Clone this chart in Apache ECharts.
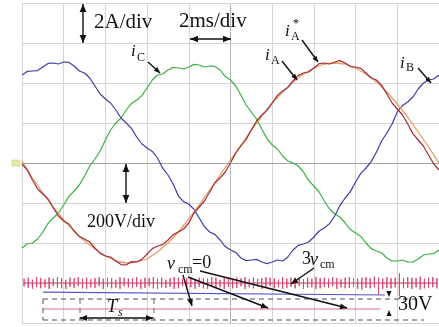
<!DOCTYPE html>
<html><head><meta charset="utf-8">
<script src="https://cdn.jsdelivr.net/npm/echarts@6/dist/echarts.min.js"></script>
<style>html,body{margin:0;padding:0;background:#fff}#c{width:439px;height:327px}</style>
</head><body><div id="c"></div>
<script>
// time axis in ms (2 ms/div), current axis in A (2 A/div)
const timeStep = 0.25;
const refStep = 0.5;
const timeTicks = [0,2,4,6,8,10,12,14,16,18,20];
const currentTicks = [-8,-6,-4,-2,0,2,4,6,8];
const iA = [-0.05,-0.35,-0.85,-1.3,-1.55,-1.8,-2.25,-2.65,-2.9,-3.05,-3.4,-3.68,-3.8,-3.95,-4.25,-4.52,-4.65,-4.7,-4.9,-5.08,-5.1,-4.93,-4.95,-4.82,-4.55,-4.28,-4.15,-4.08,-3.85,-3.58,-3.45,-3.3,-3.0,-2.5,-2.2,-1.9,-1.45,-1.0,-0.75,-0.45,0,0.5,0.85,1.18,1.65,2.1,2.4,2.63,3.0,3.38,3.6,3.78,4.1,4.38,4.5,4.55,4.75,4.97,5.0,4.95,5.05,5.12,5.0,4.82,4.8,4.73,4.5,4.25,4.15,3.88,3.45,3.0,2.7,2.4,1.95,1.47,1.15,0.85,0.4,-0.05,-0.35];
const iAref = [0.1,-0.75,-1.5,-2.2,-2.85,-3.4,-3.9,-4.3,-4.65,-4.9,-5.0,-4.95,-4.8,-4.45,-4.0,-3.45,-2.8,-2.1,-1.35,-0.6,0.15,0.9,1.65,2.35,3.0,3.55,4.05,4.45,4.75,4.95,5.0,4.95,4.75,4.45,4.05,3.55,2.95,2.3,1.55,0.8,0.0];
const iB = [4.4,4.58,4.6,4.62,4.8,4.98,5.0,4.95,5.05,5.03,4.85,4.6,4.5,4.25,3.85,3.45,3.2,3.0,2.65,2.25,2.0,1.73,1.3,0.95,0.75,0.58,0.25,-0.26,-0.6,-1.05,-1.65,-1.93,-2.05,-2.32,-2.75,-3.18,-3.45,-3.57,-3.85,-4.18,-4.35,-4.47,-4.75,-4.88,-4.85,-4.82,-4.95,-5.03,-4.95,-4.85,-4.9,-4.7,-4.35,-4.12,-4.05,-3.95,-3.7,-3.4,-3.25,-3.03,-2.65,-2.12,-1.75,-1.43,-0.95,-0.52,-0.25,0.07,0.55,1.1,1.5,1.95,2.55,2.88,3.05,3.3,3.7,4.0,4.15,4.2,4.4];
const iC = [-4.25,-4.05,-4.0,-3.8,-3.45,-3.02,-2.75,-2.5,-2.1,-1.67,-1.4,-1.1,-0.65,-0.15,0.2,0.6,1.15,1.65,2.0,2.25,2.65,2.98,3.15,3.37,3.75,4.15,4.4,4.45,4.65,4.78,4.75,4.7,4.8,4.93,4.9,4.8,4.85,4.83,4.65,4.32,4.15,3.85,3.4,2.9,2.55,2.2,1.7,1.22,0.9,0.7,0.35,0.1,0,-0.15,-0.45,-0.88,-1.15,-1.45,-1.9,-2.3,-2.55,-2.7,-3.0,-3.33,-3.5,-3.67,-4.0,-4.28,-4.4,-4.5,-4.75,-4.9,-4.9,-4.85,-4.95,-4.95,-4.8,-4.6,-4.55,-4.53,-4.35];
// lower traces, voltage on an offset scale (75 V/div)
const pulseStart = 0.1, pulseStep = 0.2;
const pwmBase = -225;
const pulseUp = [8,10,6,11,9,7,10,8,11,9,6,10,9,11,8,10,7,9,11,8,10,9,6,11,10,8,9,11,7,10,9,11,8,10,6,9,11,10,8,9,11,7,10,9,8,11,10,6,9,11,8,10,9,11,7,10,8,9,11,10,9,6,11,8,10,9,11,7,10,8,11,9,10,8,11,9,7,10,11,9,8,10,11,9,12,10,8,11,9,10,18,9,11,10,9,12,8,10,11,9];
const pulseDown = [6,9,11,7,10,8,11,6,9,10,11,7,9,6,10,11,8,9,6,11,7,10,9,11,6,8,10,7,11,9,6,10,11,8,9,7,11,10,6,9,8,11,7,10,11,6,9,8,11,7,10,9,6,11,8,10,7,11,9,6,10,8,11,9,7,10,6,11,9,8,11,10,7,9,6,11,8,10,9,7,11,12,9,10,8,22,11,9,10,8,24,10,9,11,8,12,10,9,8,10];
const vcmTimes = [1.0, 17.4];
const vcmTrace = [-242, -247.5];
const vcmZeroTimes = [1.0, 17.2];
const vcmZeroTrace = [-273.75, -273.75];

const toXY = (arr, step, t0) => arr.map((v, i) => [t0 + i * step, v]);
const pwmData = [];
pulseUp.forEach((u, i) => {
  const t = pulseStart + i * pulseStep;
  pwmData.push([t, pwmBase], [t, pwmBase + u], [t, pwmBase - pulseDown[i]], [t, pwmBase]);
});

const INK = '#111';
function head(x1, y1, x2, y2, L) {
  const a = Math.atan2(y2 - y1, x2 - x1), W = L * 0.42;
  const bx = x2 - L * Math.cos(a), by = y2 - L * Math.sin(a);
  return {type: 'polygon', z: 100, shape: {points: [[x2, y2], [bx + W * Math.sin(a), by - W * Math.cos(a)], [bx - W * Math.sin(a), by + W * Math.cos(a)]]}, style: {fill: INK}};
}
function arrow(x1, y1, x2, y2, both, L) {
  const els = [{type: 'line', z: 100, shape: {x1, y1, x2, y2}, style: {stroke: INK, lineWidth: 1.4}}, head(x1, y1, x2, y2, L)];
  if (both) els.push(head(x2, y2, x1, y1, L));
  return els;
}
function txt(s, x, y, size, italic) {
  return {type: 'text', z: 100, x, y, style: {text: s, fill: INK, fontFamily: '"Liberation Serif", serif', fontSize: size, fontStyle: italic ? 'italic' : 'normal', verticalAlign: 'middle', align: 'left'}};
}
function dline(x1, y1, x2, y2, color) {
  return {type: 'line', z: 90, shape: {x1, y1, x2, y2}, style: {stroke: color, lineWidth: 1, lineDash: [5, 4]}};
}

const graphics = [].concat(
  [{type: 'rect', z: 100, shape: {x: 12, y: 160, width: 8, height: 6}, style: {fill: '#e3e8a6', stroke: '#c9cf80', lineWidth: 0.5}}],
  arrow(83, 4, 83, 43, true, 8),
  arrow(190, 39, 231, 39, true, 8),
  arrow(126, 164, 126, 203, true, 8),
  arrow(80, 318, 153, 318, true, 7),
  arrow(148, 62, 160, 73, false, 6),
  arrow(302, 40, 318, 62, false, 6),
  arrow(282, 61, 297, 80, false, 6),
  arrow(418, 68, 431, 83, false, 6),
  arrow(183, 275, 192, 306, false, 7),
  arrow(188, 277, 268, 308, false, 7),
  arrow(200, 271, 347, 308, false, 7),
  arrow(314, 268, 291, 284, false, 7),
  [head(389, 288, 389, 297, 6), head(389, 320, 389, 310, 6)],
  [dline(43, 299, 420, 299, '#4a4a5a'), dline(43, 320, 424, 320, '#4a4a5a'), dline(43, 299, 43, 320, '#4a4a5a'),
   dline(80, 299, 80, 320, '#666'), dline(154, 299, 154, 320, '#666')],
  [txt('2A/div', 94, 22, 21, false), txt('2ms/div', 179, 21, 21, false), txt('200V/div', 87, 222, 18, false), txt('30V', 398, 305, 20, false),
   txt('i', 131, 52, 17, true), txt('C', 137, 58, 12, false),
   txt('i', 285, 32, 17, true), txt('A', 291, 37, 12, false), txt('*', 293, 24, 12, false),
   txt('i', 265, 56, 17, true), txt('A', 271, 61, 12, false),
   txt('i', 400, 64, 17, true), txt('B', 406, 68, 12, false),
   txt('v', 167, 264, 18, true), txt('cm', 178, 270, 12, false), txt('=0', 192, 263, 18, false),
   txt('3', 302, 259, 18, false), txt('v', 310, 260, 18, true), txt('cm', 320, 265, 12, false),
   txt('T', 107, 307, 18, true), txt('s', 118, 313, 12, true)]
);

const chart = echarts.init(document.getElementById('c'));
const gridLine = {show: true, lineStyle: {color: '#d6d6d6', width: 1}};
chart.setOption({
  animation: false,
  backgroundColor: '#fff',
  grid: {left: 22, top: 3, width: 420, height: 320, show: false},
  xAxis: {type: 'value', min: timeTicks[0], max: timeTicks[timeTicks.length - 1], interval: 2,
    axisLabel: {show: false}, axisTick: {show: false}, splitLine: gridLine,
    axisLine: {show: true, onZero: true, lineStyle: {color: '#9a9a9a', type: 'dotted', width: 1}}},
  yAxis: [
    {type: 'value', min: currentTicks[0], max: currentTicks[currentTicks.length - 1], interval: 2,
      axisLabel: {show: false}, axisTick: {show: false}, axisLine: {show: false}, splitLine: gridLine},
    {type: 'value', min: -300, max: 300, show: false, splitLine: {show: false}}
  ],
  graphic: graphics,
  series: [
    {type: 'line', data: toXY(iC, timeStep, 0), showSymbol: false, lineStyle: {color: '#3cb043', width: 1.2},
      markLine: {silent: true, symbol: 'none', label: {show: false}, lineStyle: {color: '#9a9a9a', type: 'dotted', width: 1}, data: [{xAxis: 10}]}},
    {type: 'line', data: toXY(iB, timeStep, 0), showSymbol: false, lineStyle: {color: '#3f3fa6', width: 1.2}},
    {type: 'line', data: toXY(iAref, refStep, 0), showSymbol: false, lineStyle: {color: '#e0a060', width: 1.3}},
    {type: 'line', data: toXY(iA, timeStep, 0), showSymbol: false, lineStyle: {color: '#a82a3c', width: 1.2}},
    {type: 'line', yAxisIndex: 1, data: pwmData, showSymbol: false, lineStyle: {color: '#d9466e', width: 1}},
    {type: 'line', yAxisIndex: 1, data: vcmTimes.map((t, i) => [t, vcmTrace[i]]), showSymbol: false, lineStyle: {color: '#5555cc', width: 1.2}},
    {type: 'line', yAxisIndex: 1, data: vcmZeroTimes.map((t, i) => [t, vcmZeroTrace[i]]), showSymbol: false, lineStyle: {color: '#e07088', width: 1}}
  ]
});
</script></body></html>
